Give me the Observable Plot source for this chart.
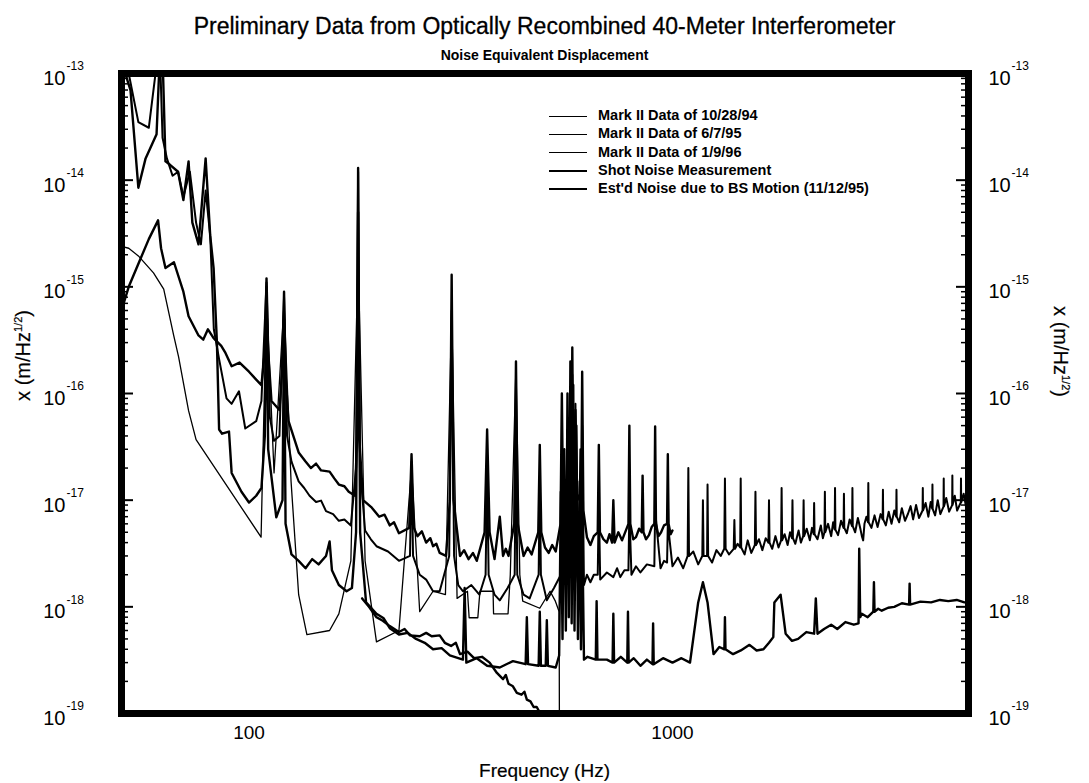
<!DOCTYPE html>
<html><head><meta charset="utf-8">
<script src="https://cdn.jsdelivr.net/npm/d3@7"></script>
<script src="https://cdn.jsdelivr.net/npm/@observablehq/plot@0.6"></script>
<style>
body{margin:0;background:#fff;}
#wrap{position:relative;width:1089px;height:783px;font-family:"Liberation Sans",Arial,Helvetica,sans-serif;color:#000;}
.abs{position:absolute;white-space:nowrap;}
#title{left:0;width:1089px;top:13px;text-align:center;font-size:23px;-webkit-text-stroke:0.3px #000;}
#subtitle{left:0;width:1089px;top:47px;text-align:center;font-size:14px;font-weight:bold;}
#xlabel{left:0;width:1089px;top:760px;text-align:center;font-size:19px;-webkit-text-stroke:0.2px #000;}
.ylab{font-size:20px;-webkit-text-stroke:0.2px #000;}
.ylab sup{font-size:11px;}
#legend{left:549px;top:106px;font-size:14.5px;font-weight:bold;}
#legend .row{height:18.3px;line-height:18.3px;}
#legend .sw{display:inline-block;width:38px;vertical-align:middle;margin-right:11px;border-top-style:solid;border-top-color:#000;}
</style></head>
<body><div id="wrap">
<div id="title" class="abs">Preliminary Data from Optically Recombined 40-Meter Interferometer</div>
<div id="subtitle" class="abs">Noise Equivalent Displacement</div>
<div id="xlabel" class="abs">Frequency (Hz)</div>
<div id="ylabL" class="abs ylab" style="left:-22px;top:344px;transform:rotate(-90deg);">x (m/Hz<sup>1/2</sup>)</div>
<div id="ylabR" class="abs ylab" style="left:1015px;top:340px;transform:rotate(90deg);">x (m/Hz<sup>1/2</sup>)</div>
<div id="legend" class="abs"></div>
</div>
<script>
// ---------- data (frequency Hz, displacement m/Hz^1/2) ----------
const seriesNames = ["Mark II Data of 10/28/94","Mark II Data of 6/7/95","Mark II Data of 1/9/96","Shot Noise Measurement","Est'd Noise due to BS Motion (11/12/95)"];
const seriesWidths = [2.4, 2, 2.4, 2.4, 1.3];
const legendWidths = [1.3, 0.9, 1.3, 2.4, 2];

const mark94 = [[50,6e-16],[52,1e-15],[55,1.7e-15],[58,2.8e-15],[61,4.2e-15],[62,2.3e-15],[63.5,1.5e-15],[66.5,1.7e-15],[70,9e-16],[72,5.3e-16],[76,3.5e-16],[78,3.2e-16],[80,4e-16],[82.5,3.3e-16],[86,2.8e-16],[88,2.4e-16],[91,1.8e-16],[95,1.95e-16],[100,1.6e-16],[104,1.35e-16],[107,1.2e-16],[109,2.5e-16],[110,1.2e-15],[111,2.5e-16],[113,8.5e-17],[118,7e-17],[120,1.8e-16],[121,9e-16],[122,1.5e-16],[124,5.5e-17],[131,2.8e-17],[136,2.3e-17],[140,2e-17],[144,2.2e-17],[148,1.9e-17],[155,1.85e-17],[159,1.6e-17],[163,1.4e-17],[168,1.35e-17],[172,1.2e-17],[178,1.1e-17],[180,4e-17],[181,1.3e-14],[182,4e-17],[186,1e-17],[195,8.5e-18],[203,7e-18],[209,7.3e-18],[215,5.8e-18],[220,6.2e-18],[226,4.9e-18],[239,5.5e-18],[242,2.7e-17],[245,5.5e-18],[250,4.6e-18],[256,5.1e-18],[262,4e-18],[268,4.4e-18],[272,3.7e-18],[277,3.9e-18],[282,3.2e-18],[292,3e-18],[298,1e-17],[301,1.3e-15],[304,1e-17],[315,3e-18],[322,3.4e-18],[330,2.8e-18],[338,3.2e-18],[345,2.7e-18],[360,5e-18],[365,4.6e-17],[370,5e-18],[380,2.8e-18],[391,7e-18],[398,3e-18],[404,3.5e-18],[410,3e-18],[423,6e-18],[427,2e-16],[431,6e-18],[445,3e-18],[455,3.6e-18],[465,3.1e-18],[482,5e-18],[486,3.3e-17],[490,5e-18],[500,3.6e-18],[510,3.2e-18],[520,3.8e-18],[530,3.3e-18],[544,6e-18],[548,1e-16],[552,6e-18],[565,4e-18],[577,1.2e-17],[580,2.7e-16],[584,1e-17],[590,7e-17],[596,1e-17],[609,1.2e-17],[612,1.6e-16],[616,8e-18],[628,4.5e-18],[640,3.8e-18],[652,4.6e-18],[666,5e-18],[670,3.3e-17],[674,5e-18],[687,4.3e-18],[700,4e-18],[710,4.8e-18],[720,4e-18],[725,1e-17],[730,4e-18],[745,5e-18],[760,4.2e-18],[787,6e-18],[791,5e-17],[795,6e-18],[808,4.3e-18],[820,4.5e-18],[834,5.4e-18],[846,5e-18],[850,1.7e-17],[854,5e-18],[866,4.3e-18],[880,4.7e-18],[893,5.6e-18],[906,6e-18],[910,4.9e-17],[914,6e-18],[927,4.6e-18],[940,5e-18],[955,5.8e-18],[971,6e-18],[975,2.7e-17],[979,6e-18],[990,4.8e-18],[1000,5.2e-18]];

const mark95 = [[50,1.5e-13],[52,1e-13],[54.8,3.5e-14],[58,3.1e-14],[60.5,1.2e-13],[61.5,2e-13],[62.5,2.5e-14],[64,1.6e-14],[66,1.1e-14],[68,1.2e-14],[70,7e-15],[72.5,1.2e-14],[75,4e-15],[77,2.5e-15],[79,8e-15],[81,3e-15],[82.6,4e-16],[85,2.1e-16],[88.5,9e-17],[91,8e-17],[94.7,1.05e-16],[98,4.7e-17],[104,5.5e-17],[107,8.5e-17],[110,1.1e-15],[112,6e-17],[114.6,3.6e-17],[118,4e-17],[121,8e-16],[123,4e-17],[126,2.3e-17],[131,1.5e-17],[135,1.3e-17],[139,1.1e-17],[144,9.6e-18],[148,9.9e-18],[152,7.9e-18],[158,7.4e-18],[163,6.4e-18],[168,6.6e-18],[174,5.8e-18],[179,2e-17],[181,1.2e-14],[183,2e-17],[188,5.2e-18],[194,4.3e-18],[200,3.7e-18],[213,3.3e-18],[226,2.7e-18],[240,3e-18],[242,2.3e-17],[244,3e-18],[253,2e-18],[262,1.8e-18],[272,1.4e-18],[282,1.4e-18],[297,3e-18],[301,6e-16],[305,3e-18],[312,1.6e-18],[320,1.4e-18],[335,1.6e-18],[350,1.3e-18],[362,2e-18],[365,2e-17],[368,2e-18],[380,1.3e-18],[391,1.15e-18],[408,1.5e-18],[424,2e-18],[427,5e-17],[430,2e-18],[445,1.3e-18],[460,1.2e-18],[483,2e-18],[486,1.5e-17],[489,2e-18],[505,1.15e-18],[525,1.5e-18],[545,2e-18],[548,3e-17],[551,2e-18],[560,2e-18],[565,4e-17],[570,2.5e-18],[575,3e-18],[580,1.5e-16],[585,3e-18],[590,8e-17],[595,2e-18],[600,1.5e-18],[606,3e-17],[609,2e-18],[612,5e-17],[618,1.6e-18],[628,2e-18],[640,1.7e-18],[652,2e-18],[666,2e-18],[670,1e-17],[675,1.8e-18],[700,2.1e-18],[725,1.9e-18],[740,2.3e-18],[753,1.9e-18],[770,2.2e-18],[787,2.2e-18],[791,8e-18],[800,2e-18],[820,2.4e-18],[840,2.1e-18],[870,2.5e-18],[906,2.4e-18],[910,8e-18],[937,2.3e-18],[955,2.7e-18],[971,2.6e-18],[975,6e-18],[1000,2.4e-18],[1030,2.9e-18],[1060,2.3e-18],[1086,3e-18],[1090,2e-17],[1094,3e-18],[1120,3.3e-18],[1150,2.5e-18],[1176,3e-18],[1180,1e-17],[1184,3e-18],[1207,3e-18],[1210,1.4e-17],[1214,3e-18],[1240,2.6e-18],[1270,3.4e-18],[1300,3e-18],[1325,3.5e-18],[1330,1.6e-17],[1335,3.5e-18],[1360,3.1e-18],[1395,3.5e-18],[1400,6.5e-18],[1405,3.5e-18],[1425,3.9e-18],[1445,3.6e-18],[1449,1.6e-17],[1453,3.6e-18],[1480,3.1e-18],[1505,4.2e-18],[1535,3.2e-18],[1565,3.8e-18],[1570,1.2e-17],[1575,3.8e-18],[1600,4.3e-18],[1630,3.4e-18],[1660,4.4e-18],[1685,4e-18],[1690,1e-17],[1695,4e-18],[1720,3.5e-18],[1750,4.6e-18],[1780,3.6e-18],[1805,4.2e-18],[1810,1.3e-17],[1815,4.2e-18],[1840,4.8e-18],[1870,3.8e-18],[1895,5e-18],[1915,4.4e-18],[1920,1e-17],[1925,4.4e-18],[1950,3.9e-18],[1985,5.2e-18],[2010,4e-18],[2035,4.6e-18],[2040,1e-17],[2045,4.6e-18],[2075,5.4e-18],[2110,4.2e-18],[2135,5.5e-18],[2155,4.8e-18],[2160,9.4e-18],[2165,4.8e-18],[2200,4.3e-18],[2240,5.8e-18],[2265,4.4e-18],[2285,5e-18],[2290,1.2e-17],[2295,5e-18],[2330,6e-18],[2370,4.6e-18],[2395,6.2e-18],[2415,5.3e-18],[2420,1.3e-17],[2425,5.3e-18],[2460,4.7e-18],[2500,6.4e-18],[2535,5.5e-18],[2540,1.15e-17],[2545,5.5e-18],[2580,4.9e-18],[2620,6.6e-18],[2655,5.7e-18],[2660,1.3e-17],[2665,5.7e-18],[2700,5e-18],[2740,6.8e-18],[2780,5.3e-18],[2800,4.6e-18],[2820,4.2e-18],[2840,6e-18],[2870,7e-18],[2895,6.2e-18],[2900,1.45e-17],[2905,6.2e-18],[2950,5.5e-18],[3000,7.2e-18],[3050,5.6e-18],[3100,7.4e-18],[3135,6.6e-18],[3140,1.25e-17],[3145,6.6e-18],[3190,5.8e-18],[3240,7.8e-18],[3290,6e-18],[3340,8e-18],[3375,7e-18],[3380,1.25e-17],[3385,7e-18],[3430,6.2e-18],[3480,8.4e-18],[3540,6.4e-18],[3600,7.5e-18],[3650,8.8e-18],[3700,6.6e-18],[3760,9e-18],[3820,6.8e-18],[3895,8e-18],[3900,1.3e-17],[3905,8e-18],[3960,9.4e-18],[4020,7e-18],[4070,9.6e-18],[4105,8.3e-18],[4110,1.4e-17],[4115,8.3e-18],[4170,7.2e-18],[4230,1e-17],[4290,7.4e-18],[4365,8.7e-18],[4370,1.6e-17],[4375,8.7e-18],[4430,1.05e-17],[4500,7.8e-18],[4575,9e-18],[4580,1.7e-17],[4585,9e-18],[4640,1.1e-17],[4700,8e-18],[4795,9.5e-18],[4800,1.6e-17],[4805,9.5e-18],[4870,1.15e-17],[4940,8.4e-18],[5000,9.5e-18]];

const mark96 = [[50,1.3e-13],[52.5,7e-14],[54.8,8.5e-15],[57,1.6e-14],[60.5,2.7e-14],[61.5,1.3e-13],[62.5,1.5e-13],[63.5,1.5e-14],[65,1.4e-14],[68,1.2e-14],[70,6.5e-15],[72,1.5e-14],[73.5,4e-15],[76,2.5e-15],[79,1.6e-14],[81,3e-15],[82.5,1.5e-15],[84,3e-16],[85,4.6e-17],[86.4,4.2e-17],[89.7,4.4e-17],[91,1.8e-17],[96,1.2e-17],[100,9.5e-18],[104,1.1e-17],[107,1.3e-17],[109,4e-17],[110,1e-15],[111,3e-17],[116,6.9e-18],[120,1e-17],[121,5e-16],[122,6e-18],[126,3.1e-18],[131,2.7e-18],[136,2.3e-18],[141,2.8e-18],[146,2.5e-18],[152,3e-18],[155,4.1e-18],[157,2.2e-18],[163,1.6e-18],[170,1.4e-18],[175,1.5e-18],[179,5e-18],[181,5e-15],[183,5e-18],[189,1.1e-18],[200,8.6e-19],[208,7.8e-19],[215,6.3e-19],[226,5.5e-19],[237,5.7e-19],[248,5e-19],[260,4.6e-19],[272,4e-19],[285,4.1e-19],[298,3.5e-19],[320,3.2e-19],[323,1.5e-18],[326,3e-19],[345,3.3e-19],[365,2.8e-19],[391,2.7e-19],[420,3.1e-19],[450,2.9e-19],[453,8e-19],[456,2.9e-19],[483,2.8e-19],[486,9e-19],[489,2.8e-19],[502,2.8e-19],[505,7.5e-19],[508,2.8e-19],[530,2.7e-19],[540,3.5e-19],[545,1.2e-17],[550,5e-19],[555,3e-17],[560,6e-19],[565,1e-16],[569,8e-19],[574,2e-16],[578,7e-19],[583,1.2e-16],[587,6e-19],[593,5e-17],[598,5e-19],[604,1.5e-17],[608,4e-19],[612,6e-18],[618,3.2e-19],[630,3.4e-19],[659,3.2e-19],[662,1.13e-18],[665,3.2e-19],[700,3.2e-19],[722,3e-19],[725,8.6e-19],[728,3e-19],[755,3.4e-19],[782,3e-19],[785,9e-19],[788,3e-19],[810,3.3e-19],[840,2.8e-19],[870,3.2e-19],[897,2.9e-19],[900,7e-19],[903,2.9e-19],[950,3.3e-19],[1000,3e-19],[1050,3.3e-19],[1100,3e-19],[1150,1.1e-18],[1180,1.7e-18],[1210,1.1e-18],[1250,3.6e-19],[1290,4.2e-19],[1326,4e-19],[1330,8e-19],[1334,4e-19],[1390,3.6e-19],[1450,3.9e-19],[1520,4.4e-19],[1580,3.9e-19],[1640,4e-19],[1690,4.6e-19],[1730,5.2e-19],[1740,1.1e-18],[1800,1.3e-18],[1850,5.6e-19],[1915,4.8e-19],[1980,5e-19],[2070,5.8e-19],[2160,5.6e-19],[2180,1.2e-18],[2200,5.6e-19],[2280,6.2e-19],[2370,6.8e-19],[2450,6.2e-19],[2560,7.2e-19],[2680,6.8e-19],[2750,7e-19],[2760,3.5e-18],[2775,8e-19],[2800,8.6e-19],[2890,8e-19],[2980,9e-19],[2990,1.7e-18],[3000,9e-19],[3060,9.6e-19],[3120,9.2e-19],[3230,9.8e-19],[3340,1e-18],[3480,1.08e-18],[3620,1.05e-18],[3630,1.65e-18],[3640,1.05e-18],[3850,1.12e-18],[4080,1.1e-18],[4280,1.16e-18],[4480,1.13e-18],[4690,1.16e-18],[4890,1.1e-18],[5000,1.1e-18]];

const shotNoise = [[185,1.2e-18],[192,1e-18],[200,8e-19],[207,7.4e-19],[215,6.6e-19],[226,5.8e-19],[233,6.2e-19],[240,5.4e-19],[253,5.3e-19],[262,5.7e-19],[270,5.3e-19],[282,5.4e-19],[290,4.6e-19],[300,4.3e-19],[308,4.6e-19],[315,3.6e-19],[328,3.8e-19],[340,3.3e-19],[355,3.4e-19],[370,3e-19],[385,2.4e-19],[398,2.1e-19],[404,2.3e-19],[410,1.9e-19],[420,1.8e-19],[429,1.56e-19],[440,1.5e-19],[447,1.6e-19],[453,1.35e-19],[462,1.3e-19],[470,1.15e-19],[478,1.15e-19],[486,1.02e-19],[500,7e-20]];

const bsMotion = [[50,2.4e-15],[52,2.3e-15],[54.8,1.95e-15],[59.5,1.35e-15],[62.9,9.5e-16],[66.4,3.5e-16],[68.2,2.2e-16],[72,6.9e-17],[75,3.7e-17],[106.8,4.5e-18],[110,8e-16],[114.6,1.8e-17],[121,7e-16],[125.7,1.5e-17],[131,1.3e-18],[137,5.5e-19],[155,6e-19],[163,8.6e-19],[174,2.7e-18],[181,2e-15],[188,2.7e-18],[200,4.7e-19],[226,6e-19],[242,2e-17],[253,9e-19],[272,1.4e-18],[291,1.3e-18],[301,6e-16],[310,1.2e-18],[328,1.4e-18],[331,7.9e-19],[347,7.9e-19],[351,1.4e-18],[377,1.4e-18],[378,8.6e-19],[409,8.6e-19],[414,2e-18],[427,1.8e-16],[436,2e-18],[443,1.13e-18],[486,9.7e-19],[514,1.4e-18],[529,1.13e-18],[540,9e-19],[541,3e-20]];

const allSeries = [mark94, mark95, mark96, shotNoise, bsMotion];

// ticks and labels
const yTicks = [1e-13,1e-14,1e-15,1e-16,1e-17,1e-18,1e-19];
const yExponents = ["-13","-14","-15","-16","-17","-18","-19"];
const xTicks = [100, 1000];
const xTickLabels = ["100","1000"];
const yMinor = yTicks.slice(1).flatMap(d => [2,3,4,5,6,7,8,9].map(m => m*d));

const yRows = yTicks.map((v,i) => ({v, e: yExponents[i]}));
const xRows = xTicks.map((v,i) => ({v, t: xTickLabels[i]}));

// inner width of the frame, used to keep the frame ticks short and inward
const innerW = 1089 - 121 - 121;

const chart = Plot.plot({
  width: 1089, height: 783,
  marginTop: 73, marginBottom: 70, marginLeft: 121, marginRight: 121,
  style: {fontFamily: "Liberation Sans, Arial, sans-serif", background: "transparent", color: "black", overflow: "visible"},
  x: {type: "log", domain: [50, 5000], axis: null},
  y: {type: "log", domain: [1e-19, 1e-13], axis: null},
  marks: [
    ...allSeries.map((s, i) => Plot.line(s, {x: d => d[0], y: d => d[1], stroke: "black", strokeWidth: seriesWidths[i], strokeLinejoin: "round", clip: true})),
    Plot.tickY(yTicks, {y: d => d, insetRight: innerW - 12, stroke: "black", strokeWidth: 2}),
    Plot.tickY(yTicks, {y: d => d, insetLeft: innerW - 12, stroke: "black", strokeWidth: 2}),
    Plot.tickY(yMinor, {y: d => d, insetRight: innerW - 7, stroke: "black", strokeWidth: 1.5}),
    Plot.tickY(yMinor, {y: d => d, insetLeft: innerW - 7, stroke: "black", strokeWidth: 1.5}),
    Plot.frame({stroke: "black", strokeWidth: 7}),
    Plot.text(yRows, {y: "v", frameAnchor: "left", text: () => "10", dx: -56, dy: 5, textAnchor: "end", fontSize: 20, fill: "black"}),
    Plot.text(yRows, {y: "v", frameAnchor: "left", text: "e", dx: -55, dy: -7, textAnchor: "start", fontSize: 12, fill: "black"}),
    Plot.text(yRows, {y: "v", frameAnchor: "right", text: () => "10", dx: 20, dy: 5, textAnchor: "start", fontSize: 20, fill: "black"}),
    Plot.text(yRows, {y: "v", frameAnchor: "right", text: "e", dx: 43, dy: -7, textAnchor: "start", fontSize: 12, fill: "black"}),
    Plot.text(xRows, {x: "v", frameAnchor: "bottom", text: "t", dy: 25, fontSize: 19, fill: "black"})
  ]
});
const wrap = document.getElementById("wrap");
chart.style.position = "absolute";
chart.style.left = "0px";
chart.style.top = "0px";
wrap.insertBefore(chart, wrap.firstChild);

// legend
const leg = document.getElementById("legend");
seriesNames.forEach((n, i) => {
  const row = document.createElement("div");
  row.className = "row";
  const sw = document.createElement("span");
  sw.className = "sw";
  sw.style.borderTopWidth = legendWidths[i] + "px";
  row.appendChild(sw);
  row.appendChild(document.createTextNode(n));
  leg.appendChild(row);
});
</script>
</body></html>
